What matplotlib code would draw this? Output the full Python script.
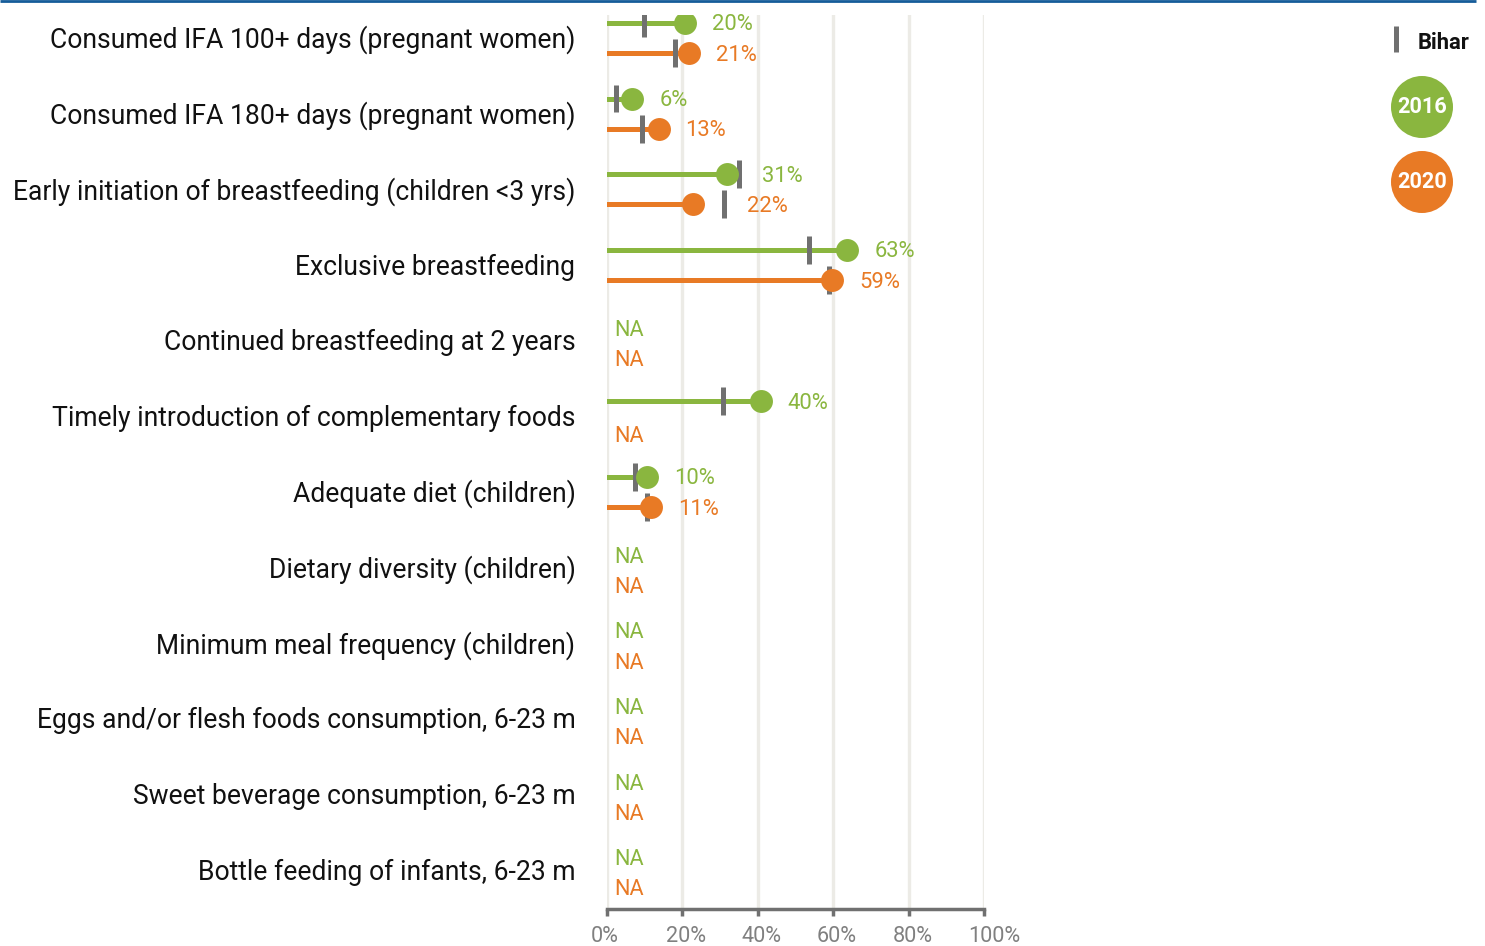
import matplotlib
matplotlib.use('Agg')
import matplotlib.pyplot as plt
import matplotlib.transforms as mtrans
from matplotlib.patches import Circle

plt.rcParams['font.family'] = ['Roboto', 'DejaVu Sans']

indicators = ['Consumed IFA 100+ days (pregnant women)',
              'Consumed IFA 180+ days (pregnant women)',
              'Early initiation of breastfeeding (children <3 yrs)',
              'Exclusive breastfeeding',
              'Continued breastfeeding at 2 years',
              'Timely introduction of complementary foods',
              'Adequate diet (children)',
              'Dietary diversity (children)',
              'Minimum meal frequency (children)',
              'Eggs and/or flesh foods consumption, 6-23 m',
              'Sweet beverage consumption, 6-23 m',
              'Bottle feeding of infants, 6-23 m']
# None = NA
val_2016 = [20, 6, 31, 63, None, 40, 10, None, None, None, None, None]
val_2020 = [21, 13, 22, 59, None, None, 11, None, None, None, None, None]
bihar_2016 = [10, 2.4, 35, 53.5, None, 30.8, 7.4, None, None, None, None, None]
bihar_2020 = [18, 9.4, 31, 59, None, None, 10.8, None, None, None, None, None]
xticks = [0, 20, 40, 60, 80, 100]

GREEN = '#8ab63f'
ORANGE = '#e87a25'
GREY = '#707070'

fig = plt.figure(figsize=(14.85, 9.46), dpi=100)
ax = fig.add_axes([606.7/1485, 37/946, (984-606.7)/1485, 894/946])

for x in xticks:
    ax.axvline(x, color='#ecebe6', lw=2.4, zorder=0)

# dots sit a few px right of the value in the original
dot_shift = ax.transData + mtrans.ScaledTranslation(3/100, 0, fig.dpi_scale_trans)

off = 0.2
for i, name in enumerate(indicators):
    for vals, bih, dy, col in [(val_2016, bihar_2016, -off, GREEN),
                               (val_2020, bihar_2020, off, ORANGE)]:
        y = i + dy
        v = vals[i]
        if v is None:
            ax.annotate('NA', (0, y), xytext=(5.5, -3.5), textcoords='offset points',
                        ha='left', va='center', color=col, fontsize=15.6)
            continue
        ax.plot([0, v], [y, y], color=col, lw=3.6, solid_capstyle='projecting', zorder=2)
        ax.plot(v, y, 'o', color=col, ms=16.5, mec='none', zorder=4, transform=dot_shift)
        anchor, dx = v, 21.5
        if bih[i] is not None:
            ax.vlines(bih[i], y - 0.185, y + 0.185, color=GREY, lw=3.6, zorder=3)
            if bih[i] > v:
                anchor, dx = bih[i], 16.5
        ax.annotate('%d%%' % v, (anchor, y), xytext=(dx, -1.5), textcoords='offset points',
                    ha='left', va='center', color=col, fontsize=15.8)
    ax.annotate(name, (0, i), xytext=(-22.5, -1.5), textcoords='offset points',
                ha='right', va='center', color='#111111', fontsize=19.1)

ax.set_xlim(0, 100)
ax.set_ylim(11.516, -0.304)
ax.set_xticks(xticks)
ax.set_xticklabels(['%d%%' % x for x in xticks])
ax.set_yticks([])
for s in ['top', 'right', 'left']:
    ax.spines[s].set_visible(False)
ax.spines['bottom'].set_color(GREY)
ax.spines['bottom'].set_linewidth(2.5)
ax.tick_params(axis='x', colors=GREY, width=2.5, length=5, labelsize=15.6, pad=7.5,
               labelcolor='#808080')
# tick labels are left-anchored a bit before each tick in the original
shift = mtrans.ScaledTranslation(-16/100, 0, fig.dpi_scale_trans)
for lbl in ax.get_xticklabels():
    lbl.set_horizontalalignment('left')
    lbl.set_transform(lbl.get_transform() + shift)

# overlay in pixel units for header rule and legend
ov = fig.add_axes([0, 0, 1, 1])
ov.set_xlim(0, 1485)
ov.set_ylim(946, 0)
ov.axis('off')
ov.plot([0, 1476], [1, 1], color='#155c99', lw=2, solid_capstyle='butt')
ov.plot([1396, 1396], [26, 52], color=GREY, lw=3.6, solid_capstyle='butt')
ov.text(1418, 43, 'Bihar', fontsize=15.8, fontweight='bold', color='#111111',
        ha='left', va='center')
for cy, col, lab in [(107, GREEN, '2016'), (182, ORANGE, '2020')]:
    ov.add_patch(Circle((1422, cy), 31, color=col, lw=0))
    ov.text(1422, cy, lab, fontsize=15.6, fontweight='bold', color='white',
            ha='center', va='center')

fig.savefig('out.png', dpi=100)
